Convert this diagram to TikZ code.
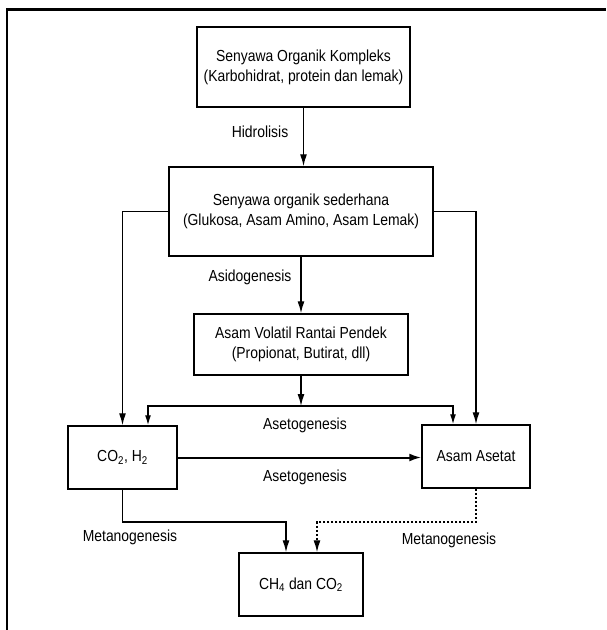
\documentclass[tikz,border=0pt]{standalone}
\usepackage{fontspec}
\setmainfont[FakeStretch=0.87]{Liberation Sans}
\usetikzlibrary{arrows.meta}
\tikzset{
  kotak/.style={draw, line width=1.5pt, align=center, inner sep=0pt, font=\fontsize{16}{20}\selectfont},
  ket/.style={font=\fontsize{16}{20}\selectfont},
  panah/.style={-{Latex[length=12pt,width=7pt]}, line width=1.3pt},
  panahkecil/.style={-{Latex[length=10pt,width=6pt]}, line width=1.3pt},
  panahbesar/.style={-{Latex[length=12pt,width=8pt]}, line width=2pt},
  titik/.style={dash pattern=on 2pt off 2pt}
}
\begin{document}
\begin{tikzpicture}[x=1pt,y=-1pt]
\useasboundingbox (0,0) rectangle (606,630);
% bingkai
\draw[line width=2.6pt] (7,630) -- (7,9.3) -- (606,9.3);
% kotak
\node[kotak, minimum width=213pt, minimum height=80pt] (kompleks) at (303.5,67) {Senyawa Organik Kompleks\\(Karbohidrat, protein dan lemak)};
\node[kotak, minimum width=264pt, minimum height=89pt] (sederhana) at (301,211.5) {Senyawa organik sederhana\\(Glukosa, Asam Amino, Asam Lemak)};
\node[kotak, minimum width=214pt, minimum height=61pt] (volatil) at (301,344.5) {Asam Volatil Rantai Pendek\\(Propionat, Butirat, dll)};
\node[kotak, minimum width=109pt, minimum height=63pt] (co2) at (122.5,457.5) {CO\textsubscript{2}, H\textsubscript{2}};
\node[kotak, minimum width=108pt, minimum height=63pt] (asetat) at (476,456.5) {Asam Asetat};
\node[kotak, minimum width=124pt, minimum height=63pt] (ch4) at (301,584.5) {CH\textsubscript{4} dan CO\textsubscript{2}};
% keterangan
\node[ket] (hidrolisis) at (260,132) {Hidrolisis};
\node[ket] (asidogenesis) at (250,277) {Asidogenesis};
\node[ket] (asetogenesis1) at (305,425) {Asetogenesis};
\node[ket] (asetogenesis2) at (305,477) {Asetogenesis};
\node[ket] (metanogenesis1) at (130,537) {Metanogenesis};
\node[ket] (metanogenesis2) at (449,540) {Metanogenesis};
% titik bantu
\coordinate (cabang) at (301,406);
\coordinate (cabangkiri) at (148,406);
\coordinate (cabangkanan) at (453,406);
\coordinate (gabungkiri) at (286,522);
\coordinate (gabungkanan) at (317,522);
% panah
\draw[panah] (kompleks.south) -- (kompleks.south |- sederhana.north);
\draw[panah] (sederhana.south) -- (volatil.north);
\draw[panah] (sederhana.west) -| (co2.north);
\draw[panah] (sederhana.east) -| (asetat.north);
\draw[panah] (volatil.south) -- (cabang);
\draw[panahkecil] (cabangkanan) -- (cabangkiri) -- (cabangkiri |- co2.north);
\draw[panahkecil] (cabangkiri) -- (cabangkanan) -- (cabangkanan |- asetat.north);
\draw[panahbesar] (co2.east) -- (co2.east -| asetat.west);
\draw[panah] (co2.south) |- (gabungkiri) -- (gabungkiri |- ch4.north);
\draw[panah, titik] (asetat.south) |- (gabungkanan) -- (gabungkanan |- ch4.north);
\end{tikzpicture}
\end{document}
